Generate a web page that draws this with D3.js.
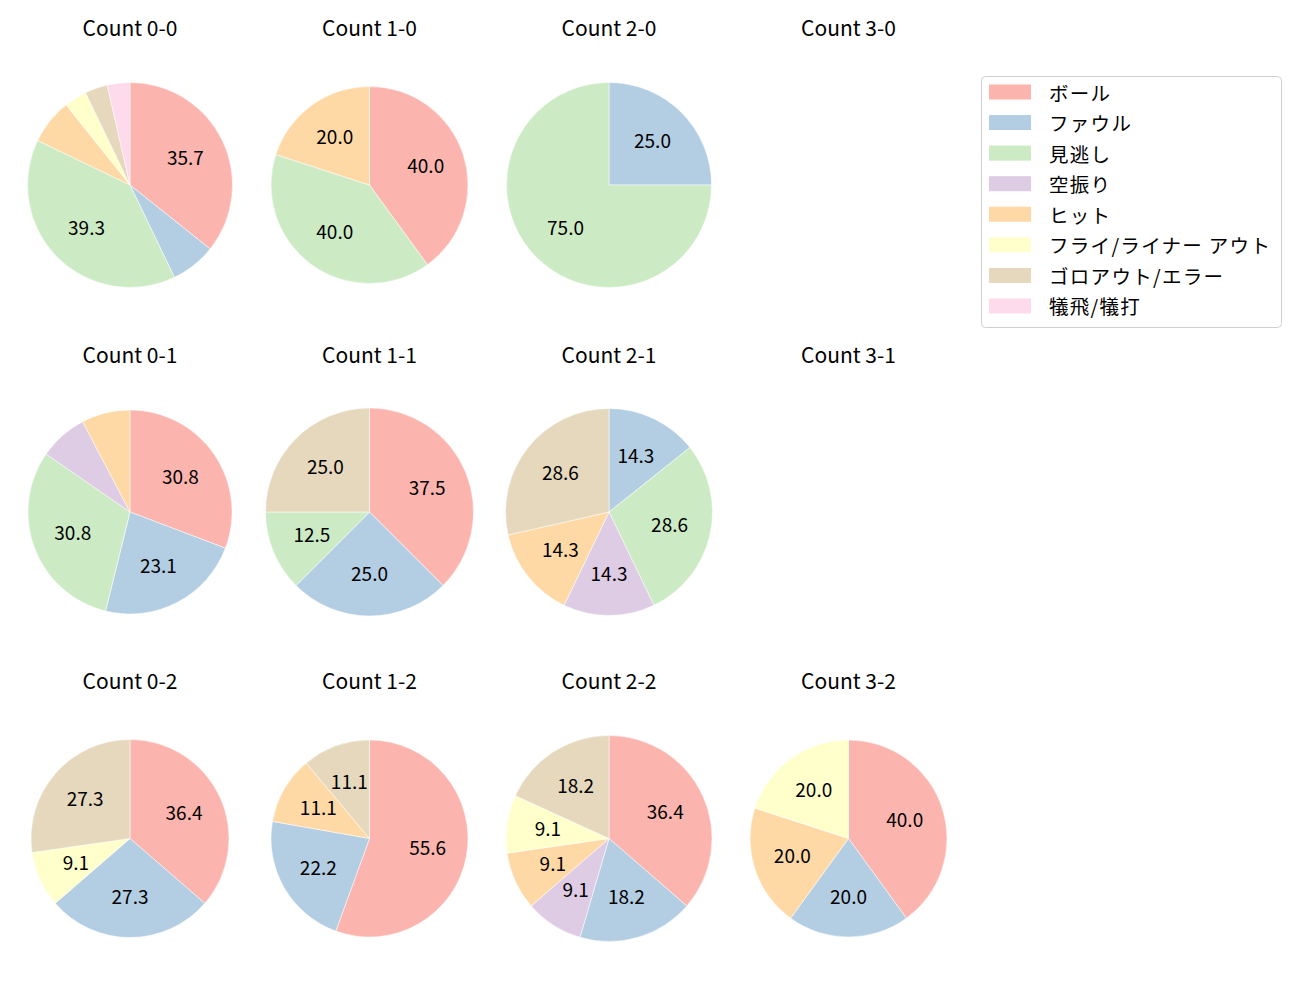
<!DOCTYPE html>
<html>
<head>
<meta charset="utf-8">
<script src="https://cdn.jsdelivr.net/npm/d3@7"></script>
<style>
  html, body { margin: 0; padding: 0; background: #fff; }
  svg { display: block; font-family: "Noto Sans CJK JP", "Noto Sans", sans-serif; }
</style>
</head>
<body>
<svg id="chart" width="1300" height="1000"></svg>
<script>
// ---- data ----
const categories = ["ボール", "ファウル", "見逃し", "空振り", "ヒット", "フライ/ライナー アウト", "ゴロアウト/エラー", "犠飛/犠打"];
const countLabels = ["0-0", "1-0", "2-0", "3-0", "0-1", "1-1", "2-1", "3-1", "0-2", "1-2", "2-2", "3-2"];
const v00 = [10, 2, 11, 0, 2, 1, 1, 1];
const v10 = [2, 0, 2, 0, 1, 0, 0, 0];
const v20 = [0, 1, 3, 0, 0, 0, 0, 0];
const v30 = [0, 0, 0, 0, 0, 0, 0, 0];
const v01 = [4, 3, 4, 1, 1, 0, 0, 0];
const v11 = [3, 2, 1, 0, 0, 0, 2, 0];
const v21 = [0, 1, 2, 1, 1, 0, 2, 0];
const v31 = [0, 0, 0, 0, 0, 0, 0, 0];
const v02 = [4, 3, 0, 0, 0, 1, 3, 0];
const v12 = [5, 2, 0, 0, 1, 0, 1, 0];
const v22 = [4, 2, 0, 1, 1, 1, 2, 0];
const v32 = [2, 1, 0, 0, 1, 1, 0, 0];
const seriesValues = [v00, v10, v20, v30, v01, v11, v21, v31, v02, v12, v22, v32];

// ---- layout / style ----
const colors = ["#fbb4ae", "#b3cde3", "#ccebc5", "#decbe4", "#fed9a6", "#ffffcc", "#e5d8bd", "#fddaec"];
const colX = [130, 369.5, 609, 848.5];
const rowY = [185, 512, 838.5];
const titleBaseline = [36, 362.5, 689];
const radii = [102.5, 98.5, 102.5, 100, 102, 104, 103.5, 100, 99, 98.5, 103, 98.5];
const labelThreshold = 8;

const svg = d3.select("#chart");
const color = d3.scaleOrdinal().domain(categories).range(colors);
const pie = d3.pie().sort(null).value(d => d.v);

countLabels.forEach((cl, i) => {
  const col = i % 4, row = Math.floor(i / 4);
  const cx = colX[col], cy = rowY[row], r = radii[i];
  svg.append("text")
    .attr("x", cx).attr("y", titleBaseline[row])
    .attr("text-anchor", "middle")
    .attr("font-size", 21)
    .attr("fill", "#000")
    .text("Count " + cl);

  const vals = seriesValues[i];
  const total = d3.sum(vals);
  if (total === 0) return;
  const data = categories.map((c, k) => ({ c, v: vals[k] }));
  const arcs = pie(data).filter(a => a.data.v > 0);
  const g = svg.append("g").attr("transform", `translate(${cx},${cy})`);
  const arc = d3.arc().innerRadius(0).outerRadius(r);
  const labelArc = d3.arc().innerRadius(r * 0.6).outerRadius(r * 0.6);
  g.selectAll("path").data(arcs).join("path")
    .attr("d", arc)
    .attr("fill", d => color(d.data.c))
    .attr("stroke", "#fff")
    .attr("stroke-width", 0.5);
  g.selectAll("text").data(arcs.filter(a => a.data.v / total * 100 >= labelThreshold)).join("text")
    .attr("transform", d => `translate(${labelArc.centroid(d)})`)
    .attr("text-anchor", "middle")
    .attr("dominant-baseline", "central")
    .attr("dy", -2)
    .attr("font-size", 19)
    .attr("fill", "#000")
    .text(d => (d.data.v / total * 100).toFixed(1));
});

// ---- legend ----
const lg = svg.append("g").attr("transform", "translate(981,76)");
lg.append("rect")
  .attr("x", 0.5).attr("y", 0.5).attr("width", 300).attr("height", 251)
  .attr("rx", 4).attr("fill", "#fff").attr("stroke", "#d0d0d0").attr("stroke-width", 1);
categories.forEach((c, k) => {
  const y = 16 + k * 30.57;
  lg.append("rect").attr("x", 8).attr("y", y - 7.5).attr("width", 42).attr("height", 15).attr("fill", color(c));
  lg.append("text").attr("x", 68).attr("y", y).attr("dominant-baseline", "central")
    .attr("font-size", 19.5).attr("letter-spacing", 1.3).attr("fill", "#000").text(c);
});
</script>
</body>
</html>
